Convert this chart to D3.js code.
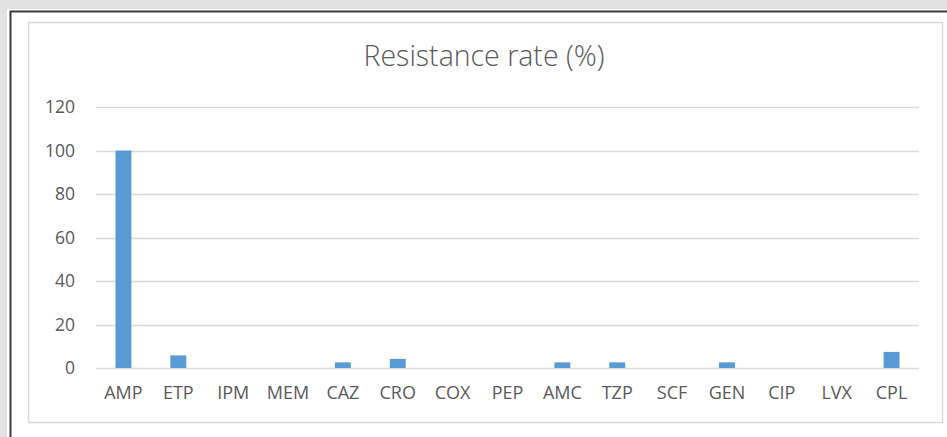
<!DOCTYPE html>
<html>
<head>
<meta charset="utf-8">
<script src="https://cdn.jsdelivr.net/npm/d3@7"></script>
<style>
  html, body { margin: 0; padding: 0; background: #e2e2e2; }
  svg { display: block; }
  text { font-family: "Open Sans", "DejaVu Sans", sans-serif; fill: #595959; }
</style>
</head>
<body>
<svg id="chart" width="947" height="437"></svg>
<script>
// antibiotics on the x axis
const categories = ['AMP', 'ETP', 'IPM', 'MEM', 'CAZ', 'CRO', 'COX', 'PEP', 'AMC', 'TZP', 'SCF', 'GEN', 'CIP', 'LVX', 'CPL'];
// resistance rate in %
const resistance = [100, 5.8, 0, 0, 2.6, 4.2, 0, 0, 2.6, 2.6, 0, 2.6, 0, 0, 7.4];
const yTicks = [0, 20, 40, 60, 80, 100, 120];
const title = 'Resistance rate (%)';

const svg = d3.select('#chart');

// screenshot frame
svg.append('rect').attr('x', 0).attr('y', 0).attr('width', 947).attr('height', 437).attr('fill', '#e2e2e2');
svg.append('rect').attr('x', 7).attr('y', 9).attr('width', 940).attr('height', 428).attr('fill', '#fff');
svg.append('path').attr('d', 'M10.5,437V11.5H947').attr('fill', 'none').attr('stroke', '#3a3a3a').attr('stroke-width', 2);

// chart area border
svg.append('rect')
  .attr('x', 28.5).attr('y', 22.5).attr('width', 914).attr('height', 400)
  .attr('fill', '#fff').attr('stroke', '#d9d9d9').attr('stroke-width', 1.5);

const plot = { left: 96, right: 919, top: 107, bottom: 368 };

const x = d3.scaleBand()
  .domain(categories)
  .range([plot.left, plot.right])
  .paddingInner(0.71)
  .paddingOuter(0.355);

const y = d3.scaleLinear()
  .domain([0, 120])
  .range([plot.bottom, plot.top]);

// gridlines
svg.append('g')
  .selectAll('line')
  .data(yTicks)
  .join('line')
  .attr('x1', plot.left).attr('x2', plot.right)
  .attr('y1', d => Math.round(y(d)) + 0.5).attr('y2', d => Math.round(y(d)) + 0.5)
  .attr('stroke', '#d9d9d9').attr('stroke-width', 1.3);

// y tick labels
svg.append('g')
  .selectAll('text')
  .data(yTicks)
  .join('text')
  .attr('x', 75)
  .attr('y', d => y(d))
  .attr('dy', '0.35em')
  .attr('text-anchor', 'end')
  .style('font-size', '17.5px')
  .text(d => d);

// bars
svg.append('g')
  .selectAll('rect')
  .data(categories)
  .join('rect')
  .attr('x', d => x(d))
  .attr('width', x.bandwidth())
  .attr('y', (d, i) => y(resistance[i]))
  .attr('height', (d, i) => y(0) - y(resistance[i]))
  .attr('fill', '#5b9bd5');

// category labels
svg.append('g')
  .selectAll('text')
  .data(categories)
  .join('text')
  .attr('x', d => x(d) + x.bandwidth() / 2)
  .attr('y', 393)
  .attr('dy', '0.35em')
  .attr('text-anchor', 'middle')
  .style('font-size', '18px')
  .text(d => d);

// title
svg.append('text')
  .attr('x', 484)
  .attr('y', 56)
  .attr('dy', '0.35em')
  .attr('text-anchor', 'middle')
  .style('font-size', '28.5px')
  .style('font-weight', 300)
  .text(title);
</script>
</body>
</html>
